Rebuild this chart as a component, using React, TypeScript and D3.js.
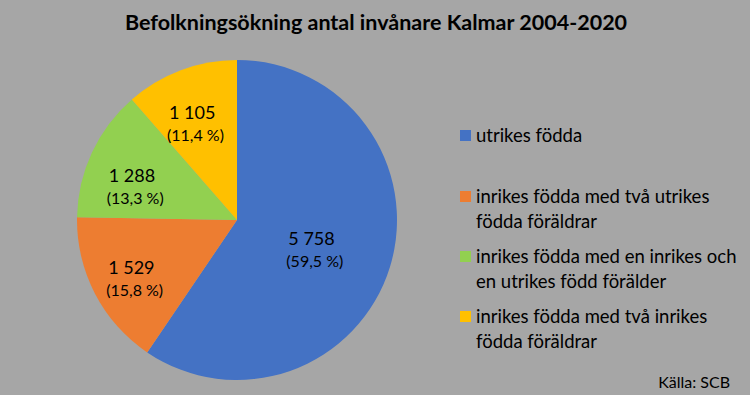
import React from 'react';
import * as d3 from 'd3';

const categories = [
  'utrikes födda',
  'inrikes födda med två utrikes födda föräldrar',
  'inrikes födda med en inrikes och en utrikes född förälder',
  'inrikes födda med två inrikes födda föräldrar',
];
const legendLines = [
  ['utrikes födda'],
  ['inrikes födda med två utrikes', 'födda föräldrar'],
  ['inrikes födda med en inrikes och', 'en utrikes född förälder'],
  ['inrikes födda med två inrikes', 'födda föräldrar'],
];
const values = [5758, 1529, 1288, 1105];
const percentLabels = ['59,5 %', '15,8 %', '13,3 %', '11,4 %'];
const colors = ['#4472C4', '#ED7D31', '#92D050', '#FFC000'];

const W = 750;
const H = 395;
const font = 'Lato, "Open Sans", sans-serif';

export default function App() {
  const cx = 237;
  const cy = 220;
  const r = 160;
  // label placement: distance (fraction of radius) and angle shift (deg) from slice middle
  const labelR = [0.53, 0.73, 0.66, 0.65];
  const labelShift = [3.6, -2.9, -6.7, -2.1];

  const pie = d3.pie<number>().sort(null).value(d => d);
  const arcs = pie(values);
  const arc = d3.arc<d3.PieArcDatum<number>>().innerRadius(0).outerRadius(r);
  const fmt = (v: number) => d3.format(',')(v).replace(/,/g, ' ');

  const legendY = [136, 197, 257, 317];

  return (
    <svg width={W} height={H} style={{ position: 'absolute', left: 0, top: 0 }}>
      <rect width={W} height={H} fill="#A6A6A6" />
      <text x={376} y={30} textAnchor="middle" fontFamily={font} fontWeight="bold" fontSize={21.5} fill="#000">
        Befolkningsökning antal invånare Kalmar 2004-2020
      </text>
      <g transform={`translate(${cx},${cy})`}>
        {arcs.map((a, i) => (
          <path key={categories[i]} d={arc(a) || ''} fill={colors[i]} />
        ))}
        {arcs.map((a, i) => {
          const mid = (a.startAngle + a.endAngle) / 2 + (labelShift[i] * Math.PI) / 180;
          const lr = r * labelR[i];
          const x = Math.sin(mid) * lr;
          const y = -Math.cos(mid) * lr;
          return (
            <g key={'l' + i} transform={`translate(${x - 30},${y})`} fontFamily={font} fill="#000">
              <text x={2} y={-5} fontSize={18}>{fmt(values[i])}</text>
              <text x={0} y={17} fontSize={16}>({percentLabels[i]})</text>
            </g>
          );
        })}
      </g>
      <g fontFamily={font} fontSize={18.5} fill="#000">
        {legendLines.map((lines, i) => (
          <g key={'lg' + i}>
            <rect x={460} y={legendY[i] - 6} width={11} height={11} fill={colors[i]} />
            {lines.map((t, j) => (
              <text key={j} x={476} y={legendY[i] + 6 + j * 24.5}>{t}</text>
            ))}
          </g>
        ))}
        <text x={730} y={388} textAnchor="end" fontSize={16}>Källa: SCB</text>
      </g>
    </svg>
  );
}
